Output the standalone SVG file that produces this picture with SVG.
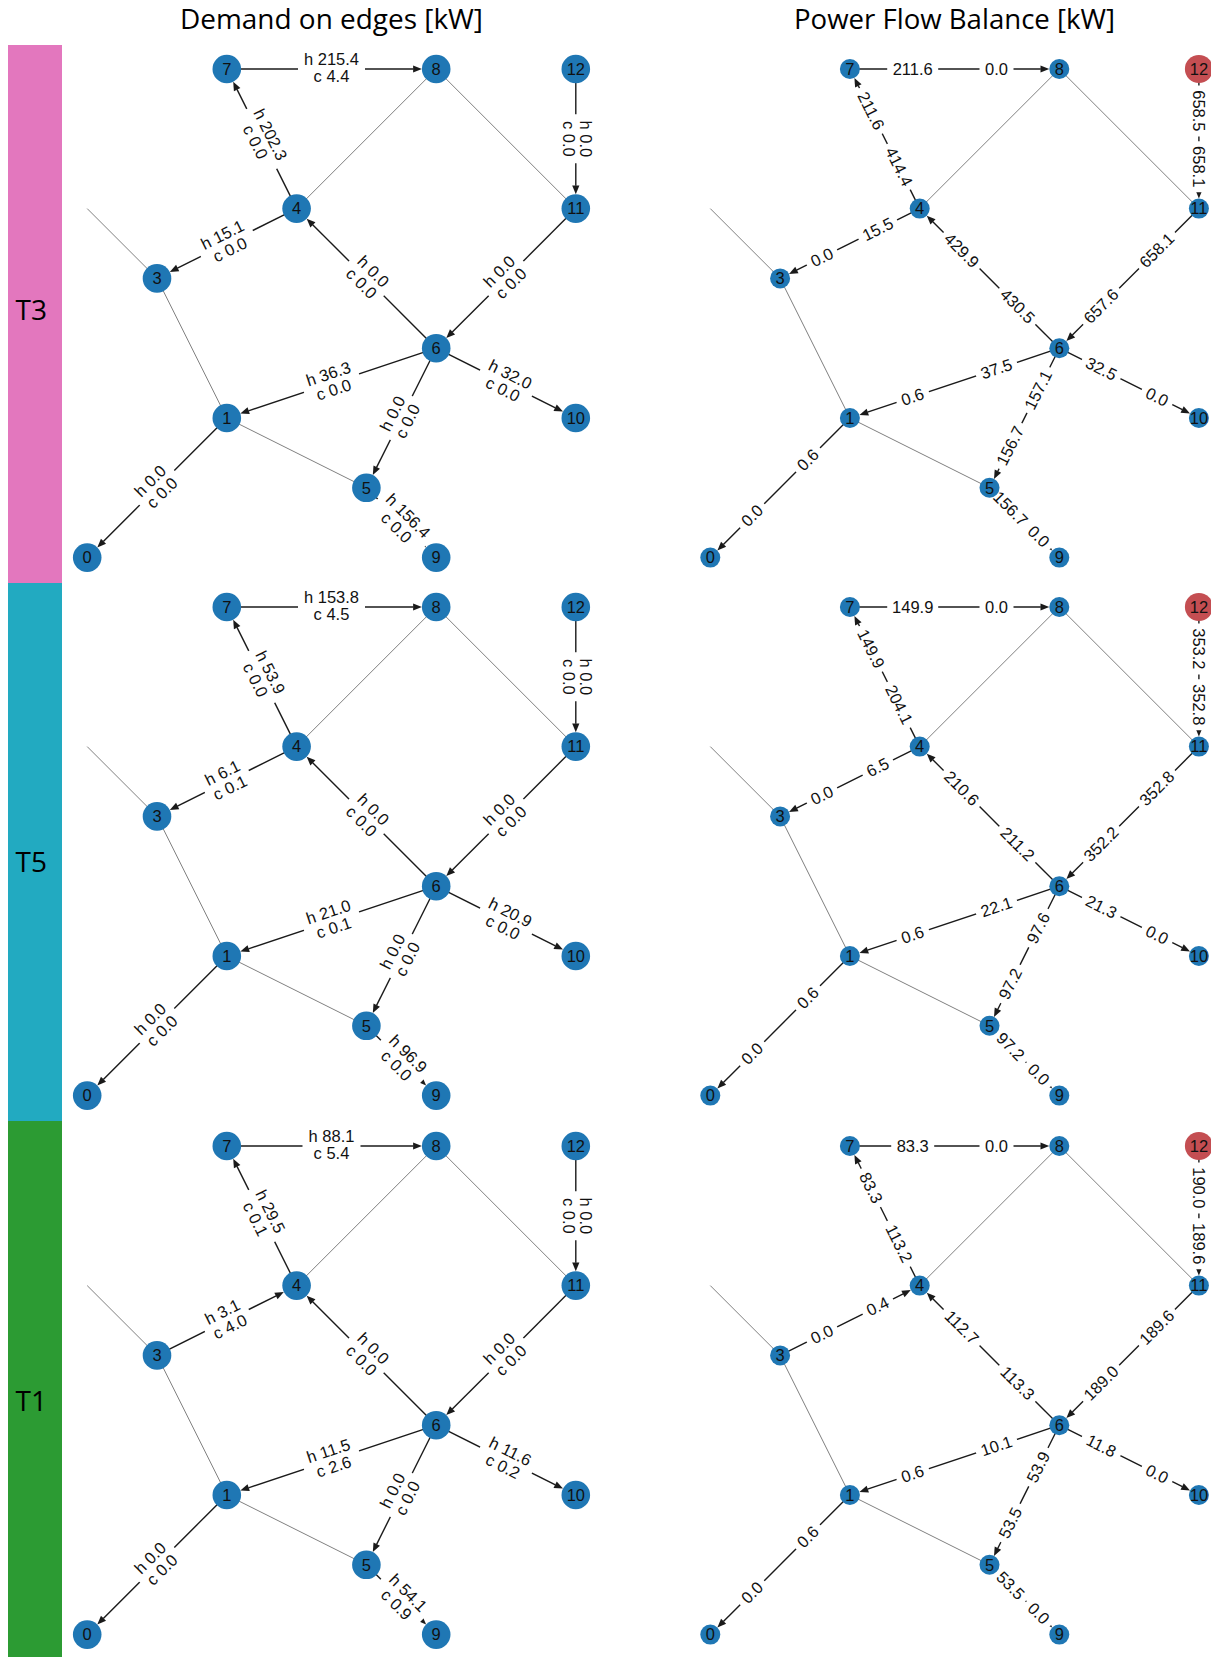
<svg xmlns="http://www.w3.org/2000/svg" xmlns:xlink="http://www.w3.org/1999/xlink" width="1211" height="1657" viewBox="0 0 1211 1657">
<style>
.title{font-family:"Open Sans","Liberation Sans",sans-serif;font-size:28px;fill:#000}
.row{font-family:"Open Sans","Liberation Sans",sans-serif;font-size:28px;fill:#000}
.gray{stroke:#808080;stroke-width:1;fill:none}
.edge{stroke:#1a1a1a;stroke-width:1.4;fill:none;marker-end:url(#ah)}
.nd circle{fill:#1f77b4}
.nd.src circle{fill:#c44e52}
.nd text,.lb text{font-family:"Liberation Sans",Arial,sans-serif;font-size:16.5px;text-anchor:middle;fill:#111}
</style>
<defs>
<marker id="ah" markerUnits="userSpaceOnUse" viewBox="0 -4 9 8" refX="0" refY="0" markerWidth="9" markerHeight="8" orient="auto" overflow="visible"><path d="M-0.3,-3.6 L8.5,0 L-0.3,3.6 Z" fill="#1a1a1a"/></marker>
<!-- label backgrounds: single-line (b*) and two-line (w*) -->
<rect id="b3" x="-17" y="-12" width="34" height="24" rx="5" fill="#fff"/>
<rect id="b4" x="-21.5" y="-12" width="43" height="24" rx="5" fill="#fff"/>
<rect id="b5" x="-25.5" y="-12" width="51" height="24" rx="5" fill="#fff"/>
<rect id="w3" x="-24.5" y="-22" width="49" height="44" rx="5" fill="#fff"/>
<rect id="w4" x="-29" y="-22" width="58" height="44" rx="5" fill="#fff"/>
<rect id="w5" x="-33.5" y="-22" width="67" height="44" rx="5" fill="#fff"/>
<!-- shared connector sets (all directed edges except the 3-4 pipe) -->
<g id="left-edges">
<line class="gray" x1="0" y1="139.6" x2="69.8" y2="209.4"/>
<line class="gray" x1="69.8" y1="209.4" x2="139.6" y2="349"/>
<line class="gray" x1="209.4" y1="139.6" x2="349" y2="0"/>
<line class="gray" x1="349" y1="0" x2="488.6" y2="139.6"/>
<line class="gray" x1="139.6" y1="349" x2="279.2" y2="418.8"/>
<line class="edge" x1="139.6" y1="0" x2="326.2" y2="0"/>
<line class="edge" x1="209.4" y1="139.6" x2="149.8" y2="20.4"/>
<line class="edge" x1="488.6" y1="0" x2="488.6" y2="116.8"/>
<line class="edge" x1="349" y1="279.2" x2="225.5" y2="155.7"/>
<line class="edge" x1="488.6" y1="139.6" x2="365.1" y2="263.1"/>
<line class="edge" x1="349" y1="279.2" x2="161.2" y2="341.8"/>
<line class="edge" x1="349" y1="279.2" x2="468.2" y2="338.8"/>
<line class="edge" x1="349" y1="279.2" x2="289.4" y2="398.4"/>
<line class="edge" x1="139.6" y1="349" x2="16.1" y2="472.5"/>
<line class="edge" x1="279.2" y1="418.8" x2="332.9" y2="472.5"/>
</g>
<g id="right-edges">
<line class="gray" x1="0" y1="139.6" x2="69.8" y2="209.4"/>
<line class="gray" x1="69.8" y1="209.4" x2="139.6" y2="349"/>
<line class="gray" x1="209.4" y1="139.6" x2="349" y2="0"/>
<line class="gray" x1="349" y1="0" x2="488.6" y2="139.6"/>
<line class="gray" x1="139.6" y1="349" x2="279.2" y2="418.8"/>
<line class="edge" x1="139.6" y1="0" x2="330.5" y2="0"/>
<line class="edge" x1="209.4" y1="139.6" x2="147.9" y2="16.5"/>
<line class="edge" x1="488.6" y1="0" x2="488.6" y2="121.1"/>
<line class="edge" x1="349" y1="279.2" x2="222.5" y2="152.7"/>
<line class="edge" x1="488.6" y1="139.6" x2="362.1" y2="266.1"/>
<line class="edge" x1="349" y1="279.2" x2="157.2" y2="343.2"/>
<line class="edge" x1="349" y1="279.2" x2="472.1" y2="340.7"/>
<line class="edge" x1="349" y1="279.2" x2="287.5" y2="402.3"/>
<line class="edge" x1="139.6" y1="349" x2="13.1" y2="475.5"/>
<line class="edge" x1="279.2" y1="418.8" x2="335.9" y2="475.5"/>
</g>
</defs>

<rect width="1211" height="1657" fill="#fff"/>

<!-- row colour bars -->
<rect x="8" y="45" width="54" height="538" fill="#e377be"/>
<rect x="8" y="583" width="54" height="538" fill="#22aac1"/>
<rect x="8" y="1121" width="54" height="536" fill="#2c9b33"/>
<text class="row" x="15.5" y="319.5">T3</text>
<text class="row" x="15.5" y="871.5">T5</text>
<text class="row" x="15.5" y="1410.5">T1</text>

<text class="title" x="331.5" y="28.5" text-anchor="middle" textLength="303" lengthAdjust="spacingAndGlyphs">Demand on edges [kW]</text>
<text class="title" x="954.5" y="28.5" text-anchor="middle" textLength="321" lengthAdjust="spacingAndGlyphs">Power Flow Balance [kW]</text>

<!-- ===== T3 demand ===== -->
<g id="t3-demand" transform="translate(87.2,69)">
<g id="t3-demand-edges">
<use href="#left-edges"/>
<line class="edge" x1="209.4" y1="139.6" x2="90.2" y2="199.2"/>
</g>
<g class="lb" id="t3-demand-labels">
<g transform="translate(244.3,0)"><use href="#w5"/><text y="-4">h 215.4</text><text y="12.7">c 4.4</text></g>
<g transform="translate(174.5,69.8) rotate(63.43)"><use href="#w5"/><text y="-4">h 202.3</text><text y="12.7">c 0.0</text></g>
<g transform="translate(488.6,69.8) rotate(90)"><use href="#w3"/><text y="-4">h 0.0</text><text y="12.7">c 0.0</text></g>
<g transform="translate(139.6,174.5) rotate(-26.57)"><use href="#w4"/><text y="-4">h 15.1</text><text y="12.7">c 0.0</text></g>
<g transform="translate(279.2,209.4) rotate(45)"><use href="#w3"/><text y="-4">h 0.0</text><text y="12.7">c 0.0</text></g>
<g transform="translate(418.8,209.4) rotate(-45)"><use href="#w3"/><text y="-4">h 0.0</text><text y="12.7">c 0.0</text></g>
<g transform="translate(244.3,314.1) rotate(-18.43)"><use href="#w4"/><text y="-4">h 36.3</text><text y="12.7">c 0.0</text></g>
<g transform="translate(418.8,314.1) rotate(26.57)"><use href="#w4"/><text y="-4">h 32.0</text><text y="12.7">c 0.0</text></g>
<g transform="translate(314.1,349) rotate(-63.43)"><use href="#w3"/><text y="-4">h 0.0</text><text y="12.7">c 0.0</text></g>
<g transform="translate(69.8,418.8) rotate(-45)"><use href="#w3"/><text y="-4">h 0.0</text><text y="12.7">c 0.0</text></g>
<g transform="translate(314.1,453.7) rotate(45)"><use href="#w5"/><text y="-4">h 156.4</text><text y="12.7">c 0.0</text></g>
</g>
<g class="nd" id="t3d-n0" transform="translate(0,488.6)"><circle r="14.3"/><text y="5.8">0</text></g>
<g class="nd" id="t3d-n1" transform="translate(139.6,349)"><circle r="14.3"/><text y="5.8">1</text></g>
<g class="nd" id="t3d-n3" transform="translate(69.8,209.4)"><circle r="14.3"/><text y="5.8">3</text></g>
<g class="nd" id="t3d-n4" transform="translate(209.4,139.6)"><circle r="14.3"/><text y="5.8">4</text></g>
<g class="nd" id="t3d-n5" transform="translate(279.2,418.8)"><circle r="14.3"/><text y="5.8">5</text></g>
<g class="nd" id="t3d-n6" transform="translate(349,279.2)"><circle r="14.3"/><text y="5.8">6</text></g>
<g class="nd" id="t3d-n7" transform="translate(139.6,0)"><circle r="14.3"/><text y="5.8">7</text></g>
<g class="nd" id="t3d-n8" transform="translate(349,0)"><circle r="14.3"/><text y="5.8">8</text></g>
<g class="nd" id="t3d-n9" transform="translate(349,488.6)"><circle r="14.3"/><text y="5.8">9</text></g>
<g class="nd" id="t3d-n10" transform="translate(488.6,349)"><circle r="14.3"/><text y="5.8">10</text></g>
<g class="nd" id="t3d-n11" transform="translate(488.6,139.6)"><circle r="14.3"/><text y="5.8">11</text></g>
<g class="nd" id="t3d-n12" transform="translate(488.6,0)"><circle r="14.3"/><text y="5.8">12</text></g>
</g>

<!-- ===== T3 balance ===== -->
<g id="t3-balance" transform="translate(710.3,69)">
<g id="t3-balance-edges">
<use href="#right-edges"/>
<line class="edge" x1="209.4" y1="139.6" x2="86.3" y2="201.1"/>
</g>
<g class="lb" id="t3-balance-labels">
<g transform="translate(202.4,0)"><use href="#b5"/><text y="5.5">211.6</text></g>
<g transform="translate(286.2,0)"><use href="#b3"/><text y="5.5">0.0</text></g>
<g transform="translate(188.5,97.7) rotate(63.43)"><use href="#b5"/><text y="5.5">414.4</text></g>
<g transform="translate(160.5,41.9) rotate(63.43)"><use href="#b5"/><text y="5.5">211.6</text></g>
<g transform="translate(488.6,41.9) rotate(90)"><use href="#b5"/><text y="5.5">658.5</text></g>
<g transform="translate(488.6,97.7) rotate(90)"><use href="#b5"/><text y="5.5">658.1</text></g>
<g transform="translate(167.5,160.5) rotate(-26.57)"><use href="#b4"/><text y="5.5">15.5</text></g>
<g transform="translate(111.7,188.5) rotate(-26.57)"><use href="#b3"/><text y="5.5">0.0</text></g>
<g transform="translate(307.1,237.3) rotate(45)"><use href="#b5"/><text y="5.5">430.5</text></g>
<g transform="translate(251.3,181.5) rotate(45)"><use href="#b5"/><text y="5.5">429.9</text></g>
<g transform="translate(446.7,181.5) rotate(-45)"><use href="#b5"/><text y="5.5">658.1</text></g>
<g transform="translate(390.9,237.3) rotate(-45)"><use href="#b5"/><text y="5.5">657.6</text></g>
<g transform="translate(286.2,300.1) rotate(-18.43)"><use href="#b4"/><text y="5.5">37.5</text></g>
<g transform="translate(202.4,328.1) rotate(-18.43)"><use href="#b3"/><text y="5.5">0.6</text></g>
<g transform="translate(390.9,300.1) rotate(26.57)"><use href="#b4"/><text y="5.5">32.5</text></g>
<g transform="translate(446.7,328.1) rotate(26.57)"><use href="#b3"/><text y="5.5">0.0</text></g>
<g transform="translate(328.1,321.1) rotate(-63.43)"><use href="#b5"/><text y="5.5">157.1</text></g>
<g transform="translate(300.1,376.9) rotate(-63.43)"><use href="#b5"/><text y="5.5">156.7</text></g>
<g transform="translate(97.7,390.9) rotate(-45)"><use href="#b3"/><text y="5.5">0.6</text></g>
<g transform="translate(41.9,446.7) rotate(-45)"><use href="#b3"/><text y="5.5">0.0</text></g>
<g transform="translate(300.1,439.7) rotate(45)"><use href="#b5"/><text y="5.5">156.7</text></g>
<g transform="translate(328.1,467.6) rotate(45)"><use href="#b3"/><text y="5.5">0.0</text></g>
</g>
<g class="nd" id="t3b-n0" transform="translate(0,488.6)"><circle r="10"/><text y="5.8">0</text></g>
<g class="nd" id="t3b-n1" transform="translate(139.6,349)"><circle r="10"/><text y="5.8">1</text></g>
<g class="nd" id="t3b-n3" transform="translate(69.8,209.4)"><circle r="10"/><text y="5.8">3</text></g>
<g class="nd" id="t3b-n4" transform="translate(209.4,139.6)"><circle r="10"/><text y="5.8">4</text></g>
<g class="nd" id="t3b-n5" transform="translate(279.2,418.8)"><circle r="10"/><text y="5.8">5</text></g>
<g class="nd" id="t3b-n6" transform="translate(349,279.2)"><circle r="10"/><text y="5.8">6</text></g>
<g class="nd" id="t3b-n7" transform="translate(139.6,0)"><circle r="10"/><text y="5.8">7</text></g>
<g class="nd" id="t3b-n8" transform="translate(349,0)"><circle r="10"/><text y="5.8">8</text></g>
<g class="nd" id="t3b-n9" transform="translate(349,488.6)"><circle r="10"/><text y="5.8">9</text></g>
<g class="nd" id="t3b-n10" transform="translate(488.6,349)"><circle r="10"/><text y="5.8">10</text></g>
<g class="nd" id="t3b-n11" transform="translate(488.6,139.6)"><circle r="10"/><text y="5.8">11</text></g>
<g class="nd src" id="t3b-n12" transform="translate(488.6,0)"><circle r="14"/><text y="5.8">12</text></g>
</g>

<!-- ===== T5 demand ===== -->
<g id="t5-demand" transform="translate(87.2,607)">
<g id="t5-demand-edges">
<use href="#left-edges"/>
<line class="edge" x1="209.4" y1="139.6" x2="90.2" y2="199.2"/>
</g>
<g class="lb" id="t5-demand-labels">
<g transform="translate(244.3,0)"><use href="#w5"/><text y="-4">h 153.8</text><text y="12.7">c 4.5</text></g>
<g transform="translate(174.5,69.8) rotate(63.43)"><use href="#w4"/><text y="-4">h 53.9</text><text y="12.7">c 0.0</text></g>
<g transform="translate(488.6,69.8) rotate(90)"><use href="#w3"/><text y="-4">h 0.0</text><text y="12.7">c 0.0</text></g>
<g transform="translate(139.6,174.5) rotate(-26.57)"><use href="#w3"/><text y="-4">h 6.1</text><text y="12.7">c 0.1</text></g>
<g transform="translate(279.2,209.4) rotate(45)"><use href="#w3"/><text y="-4">h 0.0</text><text y="12.7">c 0.0</text></g>
<g transform="translate(418.8,209.4) rotate(-45)"><use href="#w3"/><text y="-4">h 0.0</text><text y="12.7">c 0.0</text></g>
<g transform="translate(244.3,314.1) rotate(-18.43)"><use href="#w4"/><text y="-4">h 21.0</text><text y="12.7">c 0.1</text></g>
<g transform="translate(418.8,314.1) rotate(26.57)"><use href="#w4"/><text y="-4">h 20.9</text><text y="12.7">c 0.0</text></g>
<g transform="translate(314.1,349) rotate(-63.43)"><use href="#w3"/><text y="-4">h 0.0</text><text y="12.7">c 0.0</text></g>
<g transform="translate(69.8,418.8) rotate(-45)"><use href="#w3"/><text y="-4">h 0.0</text><text y="12.7">c 0.0</text></g>
<g transform="translate(314.1,453.7) rotate(45)"><use href="#w4"/><text y="-4">h 96.9</text><text y="12.7">c 0.0</text></g>
</g>
<g class="nd" id="t5d-n0" transform="translate(0,488.6)"><circle r="14.3"/><text y="5.8">0</text></g>
<g class="nd" id="t5d-n1" transform="translate(139.6,349)"><circle r="14.3"/><text y="5.8">1</text></g>
<g class="nd" id="t5d-n3" transform="translate(69.8,209.4)"><circle r="14.3"/><text y="5.8">3</text></g>
<g class="nd" id="t5d-n4" transform="translate(209.4,139.6)"><circle r="14.3"/><text y="5.8">4</text></g>
<g class="nd" id="t5d-n5" transform="translate(279.2,418.8)"><circle r="14.3"/><text y="5.8">5</text></g>
<g class="nd" id="t5d-n6" transform="translate(349,279.2)"><circle r="14.3"/><text y="5.8">6</text></g>
<g class="nd" id="t5d-n7" transform="translate(139.6,0)"><circle r="14.3"/><text y="5.8">7</text></g>
<g class="nd" id="t5d-n8" transform="translate(349,0)"><circle r="14.3"/><text y="5.8">8</text></g>
<g class="nd" id="t5d-n9" transform="translate(349,488.6)"><circle r="14.3"/><text y="5.8">9</text></g>
<g class="nd" id="t5d-n10" transform="translate(488.6,349)"><circle r="14.3"/><text y="5.8">10</text></g>
<g class="nd" id="t5d-n11" transform="translate(488.6,139.6)"><circle r="14.3"/><text y="5.8">11</text></g>
<g class="nd" id="t5d-n12" transform="translate(488.6,0)"><circle r="14.3"/><text y="5.8">12</text></g>
</g>

<!-- ===== T5 balance ===== -->
<g id="t5-balance" transform="translate(710.3,607)">
<g id="t5-balance-edges">
<use href="#right-edges"/>
<line class="edge" x1="209.4" y1="139.6" x2="86.3" y2="201.1"/>
</g>
<g class="lb" id="t5-balance-labels">
<g transform="translate(202.4,0)"><use href="#b5"/><text y="5.5">149.9</text></g>
<g transform="translate(286.2,0)"><use href="#b3"/><text y="5.5">0.0</text></g>
<g transform="translate(188.5,97.7) rotate(63.43)"><use href="#b5"/><text y="5.5">204.1</text></g>
<g transform="translate(160.5,41.9) rotate(63.43)"><use href="#b5"/><text y="5.5">149.9</text></g>
<g transform="translate(488.6,41.9) rotate(90)"><use href="#b5"/><text y="5.5">353.2</text></g>
<g transform="translate(488.6,97.7) rotate(90)"><use href="#b5"/><text y="5.5">352.8</text></g>
<g transform="translate(167.5,160.5) rotate(-26.57)"><use href="#b3"/><text y="5.5">6.5</text></g>
<g transform="translate(111.7,188.5) rotate(-26.57)"><use href="#b3"/><text y="5.5">0.0</text></g>
<g transform="translate(307.1,237.3) rotate(45)"><use href="#b5"/><text y="5.5">211.2</text></g>
<g transform="translate(251.3,181.5) rotate(45)"><use href="#b5"/><text y="5.5">210.6</text></g>
<g transform="translate(446.7,181.5) rotate(-45)"><use href="#b5"/><text y="5.5">352.8</text></g>
<g transform="translate(390.9,237.3) rotate(-45)"><use href="#b5"/><text y="5.5">352.2</text></g>
<g transform="translate(286.2,300.1) rotate(-18.43)"><use href="#b4"/><text y="5.5">22.1</text></g>
<g transform="translate(202.4,328.1) rotate(-18.43)"><use href="#b3"/><text y="5.5">0.6</text></g>
<g transform="translate(390.9,300.1) rotate(26.57)"><use href="#b4"/><text y="5.5">21.3</text></g>
<g transform="translate(446.7,328.1) rotate(26.57)"><use href="#b3"/><text y="5.5">0.0</text></g>
<g transform="translate(328.1,321.1) rotate(-63.43)"><use href="#b4"/><text y="5.5">97.6</text></g>
<g transform="translate(300.1,376.9) rotate(-63.43)"><use href="#b4"/><text y="5.5">97.2</text></g>
<g transform="translate(97.7,390.9) rotate(-45)"><use href="#b3"/><text y="5.5">0.6</text></g>
<g transform="translate(41.9,446.7) rotate(-45)"><use href="#b3"/><text y="5.5">0.0</text></g>
<g transform="translate(300.1,439.7) rotate(45)"><use href="#b4"/><text y="5.5">97.2</text></g>
<g transform="translate(328.1,467.6) rotate(45)"><use href="#b3"/><text y="5.5">0.0</text></g>
</g>
<g class="nd" id="t5b-n0" transform="translate(0,488.6)"><circle r="10"/><text y="5.8">0</text></g>
<g class="nd" id="t5b-n1" transform="translate(139.6,349)"><circle r="10"/><text y="5.8">1</text></g>
<g class="nd" id="t5b-n3" transform="translate(69.8,209.4)"><circle r="10"/><text y="5.8">3</text></g>
<g class="nd" id="t5b-n4" transform="translate(209.4,139.6)"><circle r="10"/><text y="5.8">4</text></g>
<g class="nd" id="t5b-n5" transform="translate(279.2,418.8)"><circle r="10"/><text y="5.8">5</text></g>
<g class="nd" id="t5b-n6" transform="translate(349,279.2)"><circle r="10"/><text y="5.8">6</text></g>
<g class="nd" id="t5b-n7" transform="translate(139.6,0)"><circle r="10"/><text y="5.8">7</text></g>
<g class="nd" id="t5b-n8" transform="translate(349,0)"><circle r="10"/><text y="5.8">8</text></g>
<g class="nd" id="t5b-n9" transform="translate(349,488.6)"><circle r="10"/><text y="5.8">9</text></g>
<g class="nd" id="t5b-n10" transform="translate(488.6,349)"><circle r="10"/><text y="5.8">10</text></g>
<g class="nd" id="t5b-n11" transform="translate(488.6,139.6)"><circle r="10"/><text y="5.8">11</text></g>
<g class="nd src" id="t5b-n12" transform="translate(488.6,0)"><circle r="14"/><text y="5.8">12</text></g>
</g>

<!-- ===== T1 demand ===== -->
<g id="t1-demand" transform="translate(87.2,1146)">
<g id="t1-demand-edges">
<use href="#left-edges"/>
<line class="edge" x1="69.8" y1="209.4" x2="189" y2="149.8"/>
</g>
<g class="lb" id="t1-demand-labels">
<g transform="translate(244.3,0)"><use href="#w4"/><text y="-4">h 88.1</text><text y="12.7">c 5.4</text></g>
<g transform="translate(174.5,69.8) rotate(63.43)"><use href="#w4"/><text y="-4">h 29.5</text><text y="12.7">c 0.1</text></g>
<g transform="translate(488.6,69.8) rotate(90)"><use href="#w3"/><text y="-4">h 0.0</text><text y="12.7">c 0.0</text></g>
<g transform="translate(139.6,174.5) rotate(-26.57)"><use href="#w3"/><text y="-4">h 3.1</text><text y="12.7">c 4.0</text></g>
<g transform="translate(279.2,209.4) rotate(45)"><use href="#w3"/><text y="-4">h 0.0</text><text y="12.7">c 0.0</text></g>
<g transform="translate(418.8,209.4) rotate(-45)"><use href="#w3"/><text y="-4">h 0.0</text><text y="12.7">c 0.0</text></g>
<g transform="translate(244.3,314.1) rotate(-18.43)"><use href="#w4"/><text y="-4">h 11.5</text><text y="12.7">c 2.6</text></g>
<g transform="translate(418.8,314.1) rotate(26.57)"><use href="#w4"/><text y="-4">h 11.6</text><text y="12.7">c 0.2</text></g>
<g transform="translate(314.1,349) rotate(-63.43)"><use href="#w3"/><text y="-4">h 0.0</text><text y="12.7">c 0.0</text></g>
<g transform="translate(69.8,418.8) rotate(-45)"><use href="#w3"/><text y="-4">h 0.0</text><text y="12.7">c 0.0</text></g>
<g transform="translate(314.1,453.7) rotate(45)"><use href="#w4"/><text y="-4">h 54.1</text><text y="12.7">c 0.9</text></g>
</g>
<g class="nd" id="t1d-n0" transform="translate(0,488.6)"><circle r="14.3"/><text y="5.8">0</text></g>
<g class="nd" id="t1d-n1" transform="translate(139.6,349)"><circle r="14.3"/><text y="5.8">1</text></g>
<g class="nd" id="t1d-n3" transform="translate(69.8,209.4)"><circle r="14.3"/><text y="5.8">3</text></g>
<g class="nd" id="t1d-n4" transform="translate(209.4,139.6)"><circle r="14.3"/><text y="5.8">4</text></g>
<g class="nd" id="t1d-n5" transform="translate(279.2,418.8)"><circle r="14.3"/><text y="5.8">5</text></g>
<g class="nd" id="t1d-n6" transform="translate(349,279.2)"><circle r="14.3"/><text y="5.8">6</text></g>
<g class="nd" id="t1d-n7" transform="translate(139.6,0)"><circle r="14.3"/><text y="5.8">7</text></g>
<g class="nd" id="t1d-n8" transform="translate(349,0)"><circle r="14.3"/><text y="5.8">8</text></g>
<g class="nd" id="t1d-n9" transform="translate(349,488.6)"><circle r="14.3"/><text y="5.8">9</text></g>
<g class="nd" id="t1d-n10" transform="translate(488.6,349)"><circle r="14.3"/><text y="5.8">10</text></g>
<g class="nd" id="t1d-n11" transform="translate(488.6,139.6)"><circle r="14.3"/><text y="5.8">11</text></g>
<g class="nd" id="t1d-n12" transform="translate(488.6,0)"><circle r="14.3"/><text y="5.8">12</text></g>
</g>

<!-- ===== T1 balance ===== -->
<g id="t1-balance" transform="translate(710.3,1146)">
<g id="t1-balance-edges">
<use href="#right-edges"/>
<line class="edge" x1="69.8" y1="209.4" x2="192.9" y2="147.9"/>
</g>
<g class="lb" id="t1-balance-labels">
<g transform="translate(202.4,0)"><use href="#b4"/><text y="5.5">83.3</text></g>
<g transform="translate(286.2,0)"><use href="#b3"/><text y="5.5">0.0</text></g>
<g transform="translate(188.5,97.7) rotate(63.43)"><use href="#b5"/><text y="5.5">113.2</text></g>
<g transform="translate(160.5,41.9) rotate(63.43)"><use href="#b4"/><text y="5.5">83.3</text></g>
<g transform="translate(488.6,41.9) rotate(90)"><use href="#b5"/><text y="5.5">190.0</text></g>
<g transform="translate(488.6,97.7) rotate(90)"><use href="#b5"/><text y="5.5">189.6</text></g>
<g transform="translate(167.5,160.5) rotate(-26.57)"><use href="#b3"/><text y="5.5">0.4</text></g>
<g transform="translate(111.7,188.5) rotate(-26.57)"><use href="#b3"/><text y="5.5">0.0</text></g>
<g transform="translate(307.1,237.3) rotate(45)"><use href="#b5"/><text y="5.5">113.3</text></g>
<g transform="translate(251.3,181.5) rotate(45)"><use href="#b5"/><text y="5.5">112.7</text></g>
<g transform="translate(446.7,181.5) rotate(-45)"><use href="#b5"/><text y="5.5">189.6</text></g>
<g transform="translate(390.9,237.3) rotate(-45)"><use href="#b5"/><text y="5.5">189.0</text></g>
<g transform="translate(286.2,300.1) rotate(-18.43)"><use href="#b4"/><text y="5.5">10.1</text></g>
<g transform="translate(202.4,328.1) rotate(-18.43)"><use href="#b3"/><text y="5.5">0.6</text></g>
<g transform="translate(390.9,300.1) rotate(26.57)"><use href="#b4"/><text y="5.5">11.8</text></g>
<g transform="translate(446.7,328.1) rotate(26.57)"><use href="#b3"/><text y="5.5">0.0</text></g>
<g transform="translate(328.1,321.1) rotate(-63.43)"><use href="#b4"/><text y="5.5">53.9</text></g>
<g transform="translate(300.1,376.9) rotate(-63.43)"><use href="#b4"/><text y="5.5">53.5</text></g>
<g transform="translate(97.7,390.9) rotate(-45)"><use href="#b3"/><text y="5.5">0.6</text></g>
<g transform="translate(41.9,446.7) rotate(-45)"><use href="#b3"/><text y="5.5">0.0</text></g>
<g transform="translate(300.1,439.7) rotate(45)"><use href="#b4"/><text y="5.5">53.5</text></g>
<g transform="translate(328.1,467.6) rotate(45)"><use href="#b3"/><text y="5.5">0.0</text></g>
</g>
<g class="nd" id="t1b-n0" transform="translate(0,488.6)"><circle r="10"/><text y="5.8">0</text></g>
<g class="nd" id="t1b-n1" transform="translate(139.6,349)"><circle r="10"/><text y="5.8">1</text></g>
<g class="nd" id="t1b-n3" transform="translate(69.8,209.4)"><circle r="10"/><text y="5.8">3</text></g>
<g class="nd" id="t1b-n4" transform="translate(209.4,139.6)"><circle r="10"/><text y="5.8">4</text></g>
<g class="nd" id="t1b-n5" transform="translate(279.2,418.8)"><circle r="10"/><text y="5.8">5</text></g>
<g class="nd" id="t1b-n6" transform="translate(349,279.2)"><circle r="10"/><text y="5.8">6</text></g>
<g class="nd" id="t1b-n7" transform="translate(139.6,0)"><circle r="10"/><text y="5.8">7</text></g>
<g class="nd" id="t1b-n8" transform="translate(349,0)"><circle r="10"/><text y="5.8">8</text></g>
<g class="nd" id="t1b-n9" transform="translate(349,488.6)"><circle r="10"/><text y="5.8">9</text></g>
<g class="nd" id="t1b-n10" transform="translate(488.6,349)"><circle r="10"/><text y="5.8">10</text></g>
<g class="nd" id="t1b-n11" transform="translate(488.6,139.6)"><circle r="10"/><text y="5.8">11</text></g>
<g class="nd src" id="t1b-n12" transform="translate(488.6,0)"><circle r="14"/><text y="5.8">12</text></g>
</g>
</svg>
